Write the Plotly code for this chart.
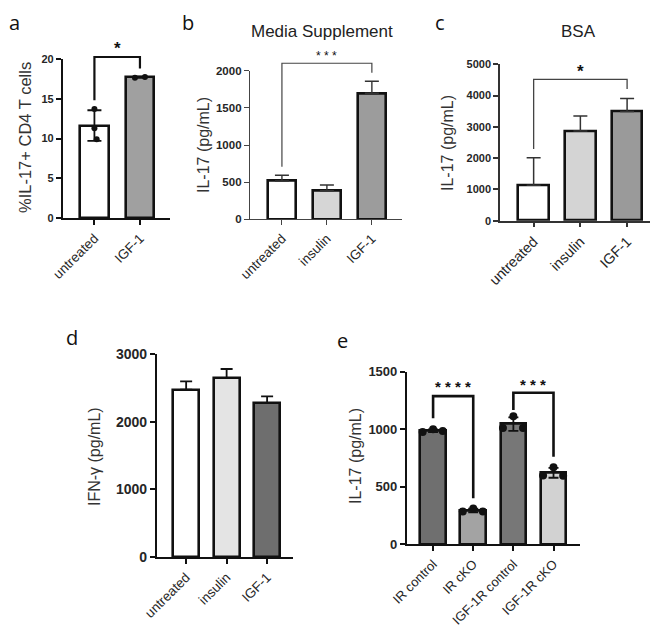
import numpy as np
import plotly.graph_objects as go

W, H = 660, 634
OFF = 8  # page body margin offset in the browser

# ---------------- data ----------------
a_cats = ["untreated", "IGF-1"]
a_points = [[13.7, 11.3, 9.9], [17.65, 17.75]]
a_colors = ["#ffffff", "#a0a0a0"]

b_cats = ["untreated", "insulin", "IGF-1"]
b_means = [515, 385, 1696]
b_sd = [77, 77, 161]
b_colors = ["#ffffff", "#d6d6d6", "#9c9c9c"]

c_cats = ["untreated", "insulin", "IGF-1"]
c_means = [1130, 2866, 3495]
c_sd = [883, 479, 415]
c_colors = ["#ffffff", "#d4d4d4", "#9a9a9a"]

d_cats = ["untreated", "insulin", "IGF-1"]
d_means = [2473, 2645, 2276]
d_sd = [123, 133, 98]
d_colors = ["#ffffff", "#e4e4e4", "#6e6e6e"]

e_cats = ["IR control", "IR cKO", "IGF-1R control", "IGF-1R cKO"]
e_points = [[975, 1000, 985], [285, 312, 285], [1010, 1112, 1010], [598, 670, 595]]
e_colors = ["#6f6f6f", "#a3a3a3", "#777777", "#d2d2d2"]

# significance brackets: (left idx, right idx, top, left leg end, right leg end, label, label y)
a_sig = [(0, 1, 20.25, 14.8, 18.8, "*", 21.3)]
b_sig = [(0, 2, 2100, 708, 1973, "* * *", 2200)]
c_sig = [(0, 2, 4518, 2290, 4208, "*", 4780)]
e_sig = [(0, 1, 1288, 1095, 400, "* * * *", 1370), (2, 3, 1317, 1167, 761, "* * *", 1385)]

a_ticks = [0, 5, 10, 15, 20]
b_ticks = [0, 500, 1000, 1500, 2000]
c_ticks = [0, 1000, 2000, 3000, 4000, 5000]
d_ticks = [0, 1000, 2000, 3000]
e_ticks = [0, 500, 1000, 1500]

# ---------------- layout (pixels in the final picture) ----------------
panels = {
    "a": dict(ax="", px=(63, 170), py=(59, 218), xr=(-0.69, 1.66), yr=(0, 20),
              lw=2.2, lc="#111111", ytf=11, xtf=13.5, bw=0.63, ec="#111111", et=1.8),
    "b": dict(ax="2", px=(250, 402), py=(70.7, 219.3), xr=(-0.71, 2.67), yr=(0, 2000),
              lw=1.3, lc="#444444", ytf=11.5, xtf=13.5, bw=0.62, ec="#333333", et=1.4),
    "c": dict(ax="3", px=(500, 650), py=(64.3, 220.7), xr=(-0.72, 2.49), yr=(0, 5000),
              lw=1.5, lc="#333333", ytf=11, xtf=14.5, bw=0.65, ec="#333333", et=1.5),
    "d": dict(ax="4", px=(157, 293), py=(354, 557), xr=(-0.72, 2.64), yr=(0, 3000),
              lw=2.2, lc="#111111", ytf=14, xtf=13.5, bw=0.64, ec="#111111", et=1.8),
    "e": dict(ax="5", px=(407, 580), py=(371.7, 544.3), xr=(-0.65, 3.66), yr=(0, 1500),
              lw=2.2, lc="#111111", ytf=13, xtf=13, bw=0.64, ec="#111111", et=1.8),
}


def fx(x):
    return (x - OFF) / W


def fy(y):
    return 1 - (y - OFF) / H


def dom(p):
    x0, x1 = p["px"]
    yt, yb = p["py"]
    return [fx(x0), fx(x1)], [fy(yb), fy(yt)]


def to_paper(p, x, y):
    xd, yd = dom(p)
    gx = (x - p["xr"][0]) / (p["xr"][1] - p["xr"][0])
    gy = (y - p["yr"][0]) / (p["yr"][1] - p["yr"][0])
    return xd[0] + gx * (xd[1] - xd[0]), yd[0] + gy * (yd[1] - yd[0])


fig = go.Figure()
FONT = "Liberation Sans, Arial, sans-serif"
TXT = "#262626"


def add_bars(key, cats, means, sd, colors, upper_only, ew, points=None, offsets=None, msize=7):
    p = panels[key]
    xa = "x" + p["ax"]
    ya = "y" + p["ax"]
    n = len(cats)
    err = dict(type="data", array=list(sd), color=p["ec"], thickness=p["et"], width=ew, visible=True)
    if upper_only:
        err["symmetric"] = False
        err["arrayminus"] = [0] * n
    fig.add_trace(go.Bar(
        x=list(range(n)), y=list(means), width=p["bw"],
        marker=dict(color=colors, line=dict(color="#111111", width=2.6)),
        error_y=err, xaxis=xa, yaxis=ya, hoverinfo="skip"))
    if points is not None:
        xs, ys = [], []
        for i, pts in enumerate(points):
            offs = offsets[len(pts)]
            for j, v in enumerate(pts):
                xs.append(i + offs[j])
                ys.append(v)
        fig.add_trace(go.Scatter(x=xs, y=ys, mode="markers",
                                 marker=dict(color="#111111", size=msize),
                                 xaxis=xa, yaxis=ya, hoverinfo="skip"))


a_means = [float(np.mean(v)) for v in a_points]
a_sd = [float(np.std(v, ddof=1)) for v in a_points]
e_means = [float(np.mean(v)) for v in e_points]
e_sd = [float(np.std(v, ddof=1)) for v in e_points]

add_bars("a", a_cats, a_means, a_sd, a_colors, False, 7, a_points,
         {3: [0, 0.0, 0.05], 2: [-0.11, 0.11]}, msize=6)
add_bars("b", b_cats, b_means, b_sd, b_colors, True, 7)
add_bars("c", c_cats, c_means, c_sd, c_colors, True, 7)
add_bars("d", d_cats, d_means, d_sd, d_colors, True, 6)
add_bars("e", e_cats, e_means, e_sd, e_colors, False, 5, e_points,
         {3: [-0.26, 0.0, 0.24]}, msize=8)

layout = dict(width=W, height=H, margin=dict(l=0, r=0, t=0, b=0, autoexpand=False),
              template="none",
              paper_bgcolor="white", plot_bgcolor="rgba(0,0,0,0)",
              showlegend=False, bargap=0)

ticks_map = {"a": a_ticks, "b": b_ticks, "c": c_ticks, "d": d_ticks, "e": e_ticks}
cats_map = {"a": a_cats, "b": b_cats, "c": c_cats, "d": d_cats, "e": e_cats}

for key, p in panels.items():
    xd, yd = dom(p)
    sfx = p["ax"]
    layout["xaxis" + sfx] = dict(
        domain=xd, range=list(p["xr"]), anchor="y" + sfx, automargin=False,
        tickmode="array", tickvals=list(range(len(cats_map[key]))), ticktext=cats_map[key],
        tickangle=-45, ticks="outside", ticklen=5, tickwidth=p["lw"], tickcolor=p["lc"],
        showline=True, linewidth=p["lw"], linecolor=p["lc"], showgrid=False, zeroline=False,
        tickfont=dict(family=FONT, size=p["xtf"], color=TXT), fixedrange=True)
    layout["yaxis" + sfx] = dict(
        domain=yd, range=list(p["yr"]), anchor="x" + sfx, automargin=False,
        tickmode="array", tickvals=ticks_map[key], ticks="outside", ticklen=5,
        tickwidth=p["lw"], tickcolor=p["lc"],
        showline=True, linewidth=p["lw"], linecolor=p["lc"], showgrid=False, zeroline=False,
        tickfont=dict(family=FONT, size=p["ytf"], color=TXT, weight="bold"), fixedrange=True)

shapes = []
annotations = []

sig_map = {"a": (a_sig, 2.2, "#111111", 17), "b": (b_sig, 1.2, "#444444", 12),
           "c": (c_sig, 1.3, "#444444", 17), "e": (e_sig, 2.6, "#111111", 15)}
for key, (sigs, lw, col, fs) in sig_map.items():
    p = panels[key]
    for (i0, i1, top, yl, yr_, label, ly) in sigs:
        x0, yl_p = to_paper(p, i0, yl)
        x1, yr_p = to_paper(p, i1, yr_)
        _, yt_p = to_paper(p, i0, top)
        path = f"M{x0},{yl_p} L{x0},{yt_p} L{x1},{yt_p} L{x1},{yr_p}"
        shapes.append(dict(type="path", path=path, xref="paper", yref="paper",
                           line=dict(color=col, width=lw)))
        lx, lyp = to_paper(p, (i0 + i1) / 2, ly)
        annotations.append(dict(x=lx, y=lyp, xref="paper", yref="paper", text=label,
                                showarrow=False, xanchor="center", yanchor="middle",
                                font=dict(family=FONT, size=fs, color="#111111",
                                          weight="bold" if key in ("a", "c", "e") else "normal")))

# axis titles
ytitles = [("%IL-17+ CD4 T cells", 25, 138, 16.5), ("IL-17 (pg/mL)", 203, 145, 16),
           ("IL-17 (pg/mL)", 447, 143, 16), ("IFN-γ (pg/mL)", 94, 457, 16),
           ("IL-17 (pg/mL)", 355, 456, 16)]
for t, x, y, fs in ytitles:
    annotations.append(dict(x=fx(x), y=fy(y), xref="paper", yref="paper", text=t,
                            textangle=-90, showarrow=False, xanchor="center", yanchor="middle",
                            font=dict(family=FONT, size=fs, color="#333333")))

# panel titles
for t, x, y in [("Media Supplement", 322, 32), ("BSA", 578, 32)]:
    annotations.append(dict(x=fx(x), y=fy(y), xref="paper", yref="paper", text=t,
                            showarrow=False, xanchor="center", yanchor="middle",
                            font=dict(family=FONT, size=17, color="#222222")))

# panel letters (top row anchored at the top edge so they stay inside the page)
letters = [("a", 8, 8, "left", "top"), ("b", 188, 8, "center", "top"),
           ("c", 440, 8, "center", "top"), ("d", 72, 337, "center", "middle"),
           ("e", 342, 341, "center", "middle")]
for t, x, y, xa_, ya_ in letters:
    annotations.append(dict(x=fx(x), y=fy(y), xref="paper", yref="paper", text=t,
                            showarrow=False, xanchor=xa_, yanchor=ya_, borderpad=0,
                            font=dict(family="Open Sans, sans-serif", size=20, color="#111111")))

layout["shapes"] = shapes
layout["annotations"] = annotations
fig.update_layout(**layout)
fig.write_html("out.html")
